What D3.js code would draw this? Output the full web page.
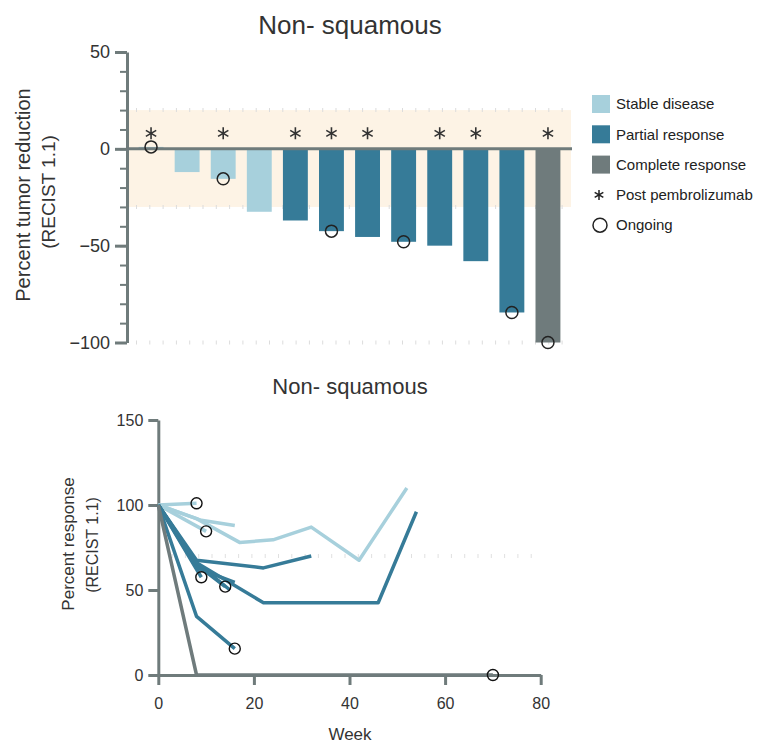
<!DOCTYPE html>
<html>
<head>
<meta charset="utf-8">
<script src="https://cdn.jsdelivr.net/npm/d3@7"></script>
<style>
	body { margin: 0; background: #fff; }
	svg { font-family: "Helvetica Neue", Helvetica, "Liberation Sans", Arial, sans-serif; }
	.axis text { fill: #333; }
</style>
</head>
<body>
<svg id="chart"></svg>
<script>
// Page dimensions
const width = 762;
const height = 746;

// Waterfall data, one entry per patient
const patients = ["P1", "P2", "P3", "P4", "P5", "P6", "P7", "P8", "P9", "P10", "P11", "P12"];
const bestChange = [1, -12, -15.5, -32.5, -37, -42.5, -45.5, -48, -50, -58, -84.5, -100];
const response = ["SD", "SD", "SD", "SD", "PR", "PR", "PR", "PR", "PR", "PR", "PR", "CR"];
const postPembro = [true, false, true, false, true, true, true, false, true, true, false, true];
const ongoing = [true, false, true, false, false, true, false, true, false, false, true, true];

// Spider plot data (same patient order)
const spiderWeeks = [
	[0, 8],
	[0, 9, 16],
	[0, 10],
	[0, 8, 17, 24, 32, 42, 48, 52],
	[0, 8, 22, 32],
	[0, 9],
	[0, 8, 16],
	[0, 8, 14],
	[0, 8, 15],
	[0, 8, 22, 46, 54],
	[0, 8, 16],
	[0, 8, 70],
];
const spiderValues = [
	[100, 101],
	[100, 91, 88],
	[100, 84.5],
	[100, 92, 78, 79.5, 87, 67.5, 93, 110],
	[100, 67.5, 63, 70],
	[100, 57.5],
	[100, 63, 54.5],
	[100, 65, 52],
	[100, 66, 50],
	[100, 66, 42.5, 42.5, 96],
	[100, 34.5, 15.5],
	[100, 0, 0],
];

// Legend / category labels
const categories = ["SD", "PR", "CR"];
const categoryLabels = ["Stable disease", "Partial response", "Complete response"];
const markerLabels = ["Post pembrolizumab", "Ongoing"];

const colorScale = d3.scaleOrdinal()
	.domain(categories)
	.range(["#a7d0dc", "#367b98", "#6f7b7c"]);

const axisColor = "#6f7b7b";

const svg = d3.select("#chart")
	.attr("width", width)
	.attr("height", height);

const bars = patients.map((p, i) => ({
	id: p,
	value: bestChange[i],
	cat: response[i],
	post: postPembro[i],
	ongoing: ongoing[i],
}));

// ================= TOP: waterfall =================
const xTop = d3.scaleBand()
	.domain(patients)
	.range([133, 566])
	.paddingInner(0.31)
	.paddingOuter(0.155);

const yTop = d3.scaleLinear()
	.domain([-100, 50])
	.range([342.5, 52]);

const gTop = svg.append("g");

// shaded stable disease band (+20 / -30)
gTop.append("rect")
	.attr("x", 127)
	.attr("y", yTop(20))
	.attr("width", 571 - 127)
	.attr("height", yTop(-30) - yTop(20))
	.attr("fill", "#fdf3e5");

// faint dotted guides
[20, -30, -100].forEach((v) => {
	gTop.append("line")
		.attr("x1", 136).attr("x2", 570)
		.attr("y1", yTop(v)).attr("y2", yTop(v))
		.attr("stroke", "#dcdcdc")
		.attr("stroke-width", 4)
		.attr("stroke-dasharray", "1,12.3");
});

gTop.selectAll("rect.bar")
	.data(bars)
	.join("rect")
	.attr("class", "bar")
	.attr("x", (d) => xTop(d.id))
	.attr("y", (d) => yTop(Math.max(0, d.value)))
	.attr("width", xTop.bandwidth())
	.attr("height", (d) => Math.abs(yTop(d.value) - yTop(0)))
	.attr("fill", (d) => colorScale(d.cat));

// zero line
gTop.append("line")
	.attr("x1", 127).attr("x2", 572)
	.attr("y1", yTop(0)).attr("y2", yTop(0))
	.attr("stroke", axisColor)
	.attr("stroke-width", 3);

// y axis: minor then major ticks
const minorAxis = gTop.append("g")
	.attr("transform", "translate(127,0)")
	.call(d3.axisLeft(yTop).tickValues(d3.range(-100, 51, 10)).tickSize(7).tickSizeOuter(0).tickFormat(""));
minorAxis.selectAll("line").attr("stroke", axisColor).attr("stroke-width", 2);
minorAxis.select(".domain").remove();

const majorAxis = gTop.append("g")
	.attr("class", "axis")
	.attr("transform", "translate(127,0)")
	.call(d3.axisLeft(yTop).tickValues([-100, -50, 0, 50]).tickSize(12).tickSizeOuter(0).tickPadding(5));
majorAxis.select(".domain").attr("stroke", axisColor).attr("stroke-width", 3);
majorAxis.selectAll("line").attr("stroke", axisColor).attr("stroke-width", 3);
majorAxis.selectAll("text").style("font-size", "18px");

// post pembrolizumab asterisks
const star = d3.symbol().type(d3.symbolAsterisk).size(100);
gTop.selectAll("path.star")
	.data(bars.filter((d) => d.post))
	.join("path")
	.attr("class", "star")
	.attr("d", star)
	.attr("transform", (d) => `translate(${xTop(d.id) + xTop.bandwidth() / 2}, ${yTop(8)})`)
	.attr("fill", "none")
	.attr("stroke", "#333")
	.attr("stroke-width", 1.6);

// ongoing circles at bar end
gTop.selectAll("circle.ongoing")
	.data(bars.filter((d) => d.ongoing))
	.join("circle")
	.attr("class", "ongoing")
	.attr("cx", (d) => xTop(d.id) + xTop.bandwidth() / 2)
	.attr("cy", (d) => yTop(d.value))
	.attr("r", 6)
	.attr("fill", "none")
	.attr("stroke", "#222")
	.attr("stroke-width", 1.5);

// titles & labels
svg.append("text")
	.attr("x", 350).attr("y", 34)
	.attr("text-anchor", "middle")
	.style("font-size", "26px")
	.attr("fill", "#333")
	.text("Non- squamous");

svg.append("text")
	.attr("transform", "translate(30,195) rotate(-90)")
	.attr("text-anchor", "middle")
	.style("font-size", "20px")
	.attr("fill", "#333")
	.text("Percent tumor reduction");

svg.append("text")
	.attr("transform", "translate(55,192) rotate(-90)")
	.attr("text-anchor", "middle")
	.style("font-size", "19px")
	.attr("fill", "#333")
	.text("(RECIST 1.1)");

// legend
const legend = svg.append("g").attr("transform", "translate(592,0)");
const rowY = (i) => 104 + i * 30.3;

legend.selectAll("rect")
	.data(categories)
	.join("rect")
	.attr("x", 0)
	.attr("y", (d, i) => rowY(i) - 9)
	.attr("width", 18)
	.attr("height", 18)
	.attr("fill", (d) => colorScale(d));

legend.selectAll("text")
	.data(categoryLabels.concat(markerLabels))
	.join("text")
	.attr("x", 24)
	.attr("y", (d, i) => rowY(i))
	.attr("dy", "0.35em")
	.style("font-size", "15px")
	.attr("fill", "#222")
	.text((d) => d);

legend.append("path")
	.attr("d", d3.symbol().type(d3.symbolAsterisk).size(70))
	.attr("transform", `translate(7, ${rowY(3)})`)
	.attr("fill", "none")
	.attr("stroke", "#222")
	.attr("stroke-width", 1.5);

legend.append("circle")
	.attr("cx", 8).attr("cy", rowY(4))
	.attr("r", 7)
	.attr("fill", "none")
	.attr("stroke", "#222")
	.attr("stroke-width", 1.5);

// ================= BOTTOM: spider plot =================
const xLow = d3.scaleLinear().domain([0, 80]).range([158.3, 540.7]);
const yLow = d3.scaleLinear().domain([0, 150]).range([675, 420]);

const gLow = svg.append("g");

gLow.append("line")
	.attr("x1", xLow(0)).attr("x2", xLow(80))
	.attr("y1", yLow(70)).attr("y2", yLow(70))
	.attr("stroke", "#e0e0e0")
	.attr("stroke-width", 4)
	.attr("stroke-dasharray", "1,12.3");

const series = patients.map((p, i) => ({
	id: p,
	cat: response[i],
	ongoing: ongoing[i],
	points: spiderWeeks[i].map((w, j) => [w, spiderValues[i][j]]),
}));

const line = d3.line()
	.x((d) => xLow(d[0]))
	.y((d) => yLow(d[1]));

const yAxisLow = gLow.append("g")
	.attr("class", "axis")
	.attr("transform", `translate(${xLow(0)},0)`)
	.call(d3.axisLeft(yLow).tickValues([0, 50, 100, 150]).tickSize(10).tickSizeOuter(0).tickPadding(5));
yAxisLow.selectAll("text").style("font-size", "16px");

const xAxisLow = gLow.append("g")
	.attr("class", "axis")
	.attr("transform", `translate(0,${yLow(0)})`)
	.call(d3.axisBottom(xLow).tickValues([0, 20, 40, 60, 80]).tickSize(10).tickSizeOuter(0).tickPadding(13));
xAxisLow.selectAll("text").style("font-size", "16px");

[yAxisLow, xAxisLow].forEach((ax) => {
	ax.select(".domain").attr("stroke", axisColor).attr("stroke-width", 3);
	ax.selectAll("line").attr("stroke", axisColor).attr("stroke-width", 3);
});

gLow.selectAll("path.spider")
	.data(series)
	.join("path")
	.attr("class", "spider")
	.attr("d", (d) => line(d.points))
	.attr("fill", "none")
	.attr("stroke", (d) => colorScale(d.cat))
	.attr("stroke-width", 3.5)
	.attr("stroke-linejoin", "round");

gLow.selectAll("circle.ongoing")
	.data(series.filter((d) => d.ongoing))
	.join("circle")
	.attr("class", "ongoing")
	.attr("cx", (d) => xLow(d.points[d.points.length - 1][0]))
	.attr("cy", (d) => yLow(d.points[d.points.length - 1][1]))
	.attr("r", 5.5)
	.attr("fill", "none")
	.attr("stroke", "#111")
	.attr("stroke-width", 1.4);

svg.append("text")
	.attr("x", 350).attr("y", 394)
	.attr("text-anchor", "middle")
	.style("font-size", "22px")
	.attr("fill", "#333")
	.text("Non- squamous");

svg.append("text")
	.attr("transform", "translate(74,544) rotate(-90)")
	.attr("text-anchor", "middle")
	.style("font-size", "17px")
	.attr("fill", "#333")
	.text("Percent response");

svg.append("text")
	.attr("transform", "translate(98,545) rotate(-90)")
	.attr("text-anchor", "middle")
	.style("font-size", "16px")
	.attr("fill", "#333")
	.text("(RECIST 1.1)");

svg.append("text")
	.attr("x", 350).attr("y", 740)
	.attr("text-anchor", "middle")
	.style("font-size", "17px")
	.attr("fill", "#333")
	.text("Week");
</script>
</body>
</html>
